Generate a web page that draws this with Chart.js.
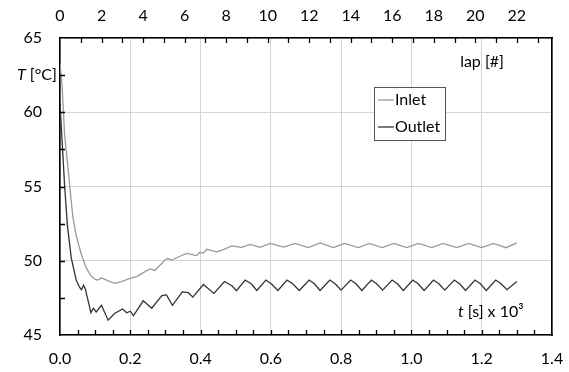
<!DOCTYPE html>
<html>
<head>
<meta charset="utf-8">
<script src="https://cdn.jsdelivr.net/npm/chart.js@4.4.1/dist/chart.umd.min.js"></script>
<style>
  html, body { margin: 0; padding: 0; background: #fff; }
</style>
</head>
<body>
<canvas id="chart" width="569" height="372"></canvas>
<script>
// --- data (t in s x 10^3, T in °C) ---
const inletTime = [
  0, 0.006, 0.013, 0.023, 0.032, 0.037, 0.046, 0.061,
  0.075, 0.089, 0.1, 0.108, 0.118, 0.137, 0.157, 0.175,
  0.199, 0.218, 0.237, 0.256, 0.27, 0.299, 0.306, 0.318,
  0.332, 0.36, 0.389, 0.398, 0.408, 0.417, 0.446, 0.465,
  0.489, 0.517, 0.541, 0.569, 0.598, 0.636, 0.669, 0.707,
  0.74, 0.778, 0.81, 0.849, 0.88, 0.917, 0.95, 0.987,
  1.02, 1.058, 1.09, 1.129, 1.163, 1.2, 1.233, 1.269,
  1.3
];
const inletTemp = [
  63.3, 61.8, 58.5, 56.2, 54.0, 52.9, 51.7, 50.4,
  49.5, 48.95, 48.75, 48.7, 48.85, 48.65, 48.48, 48.6,
  48.82, 48.93, 49.2, 49.45, 49.35, 50.05, 50.15, 50.05,
  50.2, 50.5, 50.35, 50.57, 50.5, 50.77, 50.6, 50.75,
  51.0, 50.9, 51.1, 50.9, 51.17, 50.92, 51.17, 50.88,
  51.2, 50.88, 51.17, 50.88, 51.17, 50.88, 51.17, 50.88,
  51.17, 50.88, 51.17, 50.88, 51.17, 50.88, 51.17, 50.88,
  51.2
];

const outletTime = [
  0, 0.004, 0.013, 0.021, 0.032, 0.046, 0.056, 0.061,
  0.067, 0.072, 0.088, 0.095, 0.103, 0.118, 0.137, 0.155,
  0.178, 0.19, 0.2, 0.209, 0.237, 0.261, 0.29, 0.303,
  0.32, 0.348, 0.365, 0.378, 0.408, 0.438, 0.468, 0.49,
  0.502, 0.527, 0.545, 0.56, 0.586, 0.602, 0.62, 0.646,
  0.662, 0.681, 0.709, 0.724, 0.74, 0.768, 0.783, 0.8,
  0.827, 0.842, 0.859, 0.886, 0.901, 0.918, 0.945, 0.96,
  0.977, 1.004, 1.019, 1.036, 1.063, 1.078, 1.095, 1.122,
  1.137, 1.154, 1.181, 1.196, 1.213, 1.24, 1.255, 1.272,
  1.3
];
const outletTemp = [
  60.6, 58.9, 55.1, 52.4, 50.2, 48.7, 48.2, 48.05,
  48.35, 48.1, 46.5, 46.8, 46.55, 47.0, 46.0, 46.45,
  46.75, 46.5, 46.6, 46.3, 47.3, 46.8, 47.65, 47.7,
  47.0, 47.9, 47.85, 47.55, 48.4, 47.8, 48.6, 48.3,
  47.98, 48.7, 48.43, 48.0, 48.7, 48.43, 48.0, 48.7,
  48.45, 48.0, 48.7, 48.45, 48.0, 48.7, 48.45, 48.02,
  48.7, 48.45, 48.0, 48.7, 48.45, 48.02, 48.7, 48.45,
  48.0, 48.7, 48.45, 48.0, 48.7, 48.45, 48.02, 48.7,
  48.45, 48.0, 48.7, 48.45, 48.0, 48.7, 48.45, 48.05,
  48.6
];

const seriesNames = ['Inlet', 'Outlet'];
const seriesColors = ['#9a9a9a', '#333333'];

// axis ranges / tick labels
const tMin = 0, tMax = 1.4, tStep = 0.2, tMinor = 0.05;
const lapTicks = [0, 2, 4, 6, 8, 10, 12, 14, 16, 18, 20, 22];
const lapMax = 22 * tMax / 1.3;   // lap 22 lines up with t = 1.3
const lapMinor = 1;
const tempMin = 45, tempMax = 65, tempStep = 5, tempMinor = 2.5;

const FONT = 'Lato, "Open Sans", sans-serif';

function toPoints(xs, ys) {
  return xs.map((x, i) => ({ x: x, y: ys[i] }));
}

// inward tick marks, axis captions and the boxed legend
const decorPlugin = {
  id: 'decor',
  afterDraw(chart) {
    const { ctx, chartArea: a, scales } = chart;
    ctx.save();
    ctx.strokeStyle = '#000';
    ctx.lineWidth = 1.3;
    ctx.beginPath();
    for (let v = tMinor; v < tMax; v += tMinor) {
      const px = Math.round(scales.x.getPixelForValue(v)) + 0.5;
      ctx.moveTo(px, a.bottom);
      ctx.lineTo(px, a.bottom - 5);
    }
    for (let v = lapMinor; v < lapMax; v += lapMinor) {
      const px = Math.round(scales.xTop.getPixelForValue(v)) + 0.5;
      ctx.moveTo(px, a.top);
      ctx.lineTo(px, a.top + 5);
    }
    for (let v = tempMin + tempMinor; v < tempMax; v += tempMinor) {
      const py = Math.round(scales.y.getPixelForValue(v)) + 0.5;
      ctx.moveTo(a.left, py);
      ctx.lineTo(a.left + 5, py);
    }
    ctx.stroke();

    // captions
    ctx.fillStyle = '#000';
    ctx.textBaseline = 'middle';
    ctx.textAlign = 'left';
    const yT = scales.y.getPixelForValue(62.5);
    ctx.font = 'italic 16px ' + FONT;
    ctx.fillText('T', 17, yT);
    let w = ctx.measureText('T').width;
    ctx.font = '16px ' + FONT;
    ctx.fillText(' [°C]', 17 + w, yT);

    ctx.textAlign = 'right';
    ctx.fillText('lap [#]', 504, a.top + 24);

    ctx.textAlign = 'left';
    const capY = a.bottom - 23;
    ctx.font = 'italic 16px ' + FONT;
    ctx.fillText('t', 458, capY);
    w = ctx.measureText('t').width;
    ctx.font = '16px ' + FONT;
    ctx.fillText(' [s] x 10³', 458 + w, capY);

    // legend box
    const lx = 374, ly = 87, lw = 71, lh = 53;
    ctx.fillStyle = '#fff';
    ctx.fillRect(lx, ly, lw, lh);
    ctx.strokeStyle = '#555';
    ctx.lineWidth = 1;
    ctx.strokeRect(lx + 0.5, ly + 0.5, lw, lh);
    seriesNames.forEach((name, i) => {
      const ry = ly + 13 + i * 27;
      ctx.strokeStyle = seriesColors[i];
      ctx.lineWidth = 1.3;
      ctx.beginPath();
      ctx.moveTo(lx + 4, ry);
      ctx.lineTo(lx + 20, ry);
      ctx.stroke();
      ctx.fillStyle = '#000';
      ctx.font = '16px ' + FONT;
      ctx.fillText(name, lx + 21, ry);
    });
    ctx.restore();
  }
};

const tickFont = { family: FONT, size: 16 };

new Chart(document.getElementById('chart'), {
  type: 'line',
  data: {
    datasets: [
      {
        label: seriesNames[0],
        data: toPoints(inletTime, inletTemp),
        borderColor: seriesColors[0],
        borderWidth: 1.3,
        pointRadius: 0,
        tension: 0,
        xAxisID: 'x',
        yAxisID: 'y'
      },
      {
        label: seriesNames[1],
        data: toPoints(outletTime, outletTemp),
        borderColor: seriesColors[1],
        borderWidth: 1.3,
        pointRadius: 0,
        tension: 0,
        xAxisID: 'x',
        yAxisID: 'y'
      }
    ]
  },
  options: {
    responsive: false,
    animation: false,
    layout: { padding: { left: 0, right: 17, top: 0, bottom: 0 } },
    plugins: {
      legend: { display: false },
      tooltip: { enabled: false }
    },
    scales: {
      x: {
        type: 'linear',
        position: 'bottom',
        min: tMin,
        max: tMax,
        ticks: {
          stepSize: tStep,
          callback: (v) => v.toFixed(1),
          font: tickFont,
          color: '#000',
          padding: 14,
          maxRotation: 0
        },
        grid: { color: '#d4d4d4', lineWidth: 1, drawTicks: false },
        border: { color: '#000', width: 1.6 },
        afterFit: (s) => {
          s.height = 37;
          // the "1.4" label may hang past the frame, like the original
          s.paddingLeft = 0;
          s.paddingRight = 0;
        }
      },
      xTop: {
        type: 'linear',
        position: 'top',
        min: 0,
        max: lapMax,
        afterBuildTicks: (s) => { s.ticks = lapTicks.map(v => ({ value: v })); },
        ticks: {
          font: tickFont,
          color: '#000',
          padding: 13,
          maxRotation: 0,
          autoSkip: false
        },
        grid: { display: false, drawTicks: false },
        border: { color: '#000', width: 1.6 },
        afterFit: (s) => {
          s.height = 38;
          s.paddingLeft = 0;
          s.paddingRight = 0;
        }
      },
      y: {
        type: 'linear',
        position: 'left',
        min: tempMin,
        max: tempMax,
        ticks: {
          stepSize: tempStep,
          font: tickFont,
          color: '#000',
          padding: 18
        },
        grid: { color: '#d4d4d4', lineWidth: 1, drawTicks: false },
        border: { color: '#000', width: 1.6 },
        afterFit: (s) => { s.width = 60; }
      },
      y2: {
        type: 'linear',
        position: 'right',
        min: tempMin,
        max: tempMax,
        ticks: { display: false },
        grid: { display: false, drawTicks: false },
        border: { color: '#000', width: 1.6 },
        afterFit: (s) => { s.width = 0; }
      }
    }
  },
  plugins: [decorPlugin]
});
</script>
</body>
</html>
